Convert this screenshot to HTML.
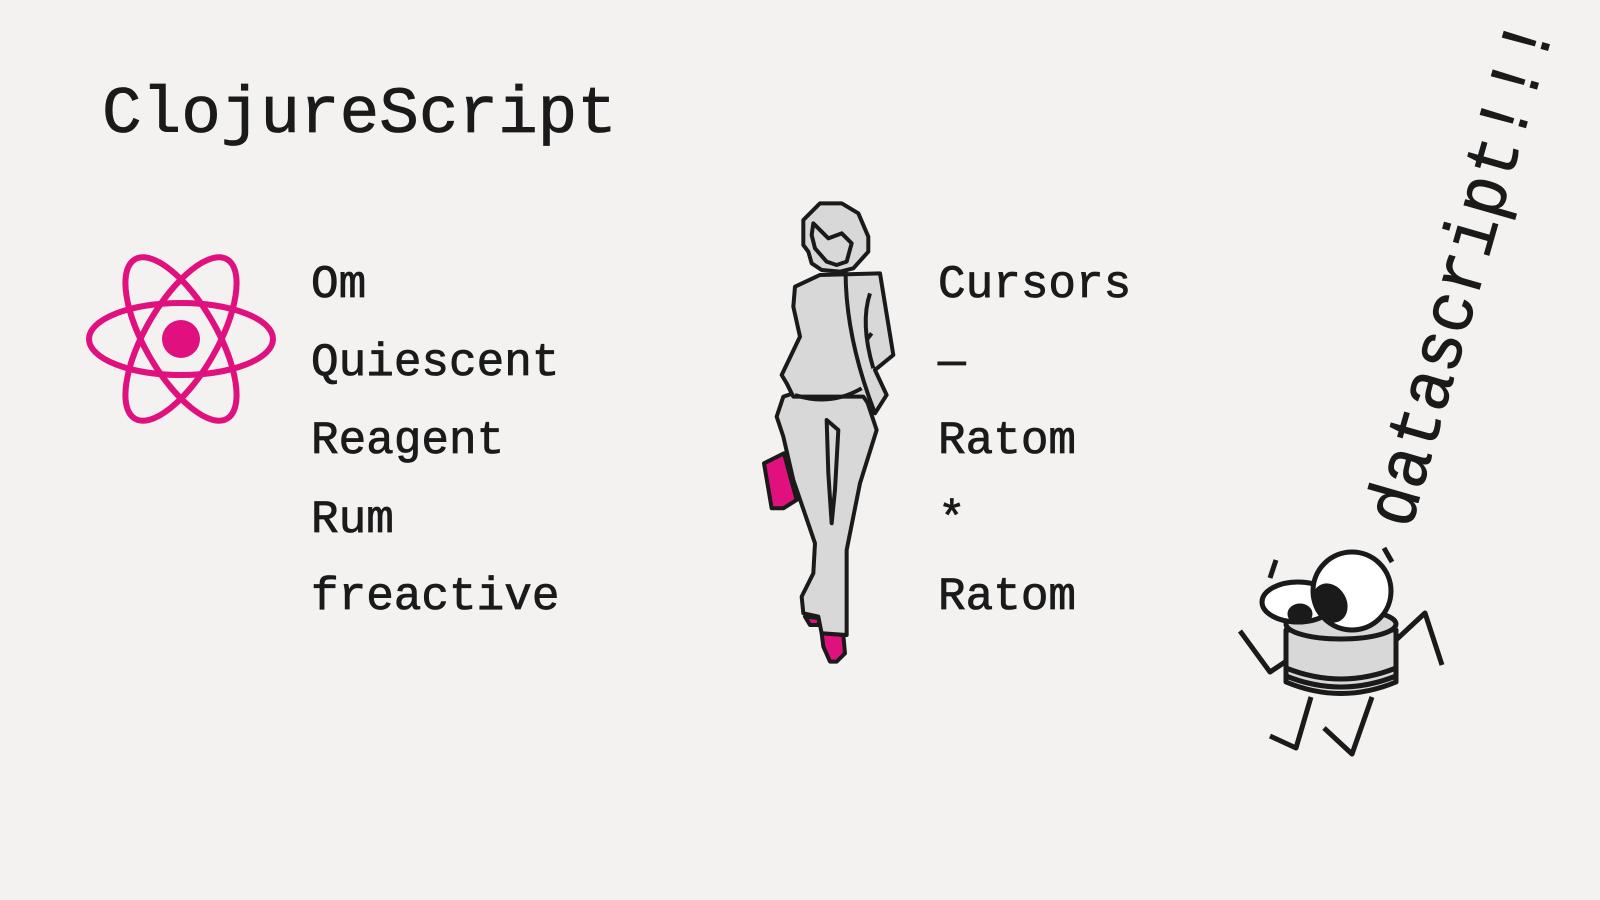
<!DOCTYPE html>
<html><head><meta charset="utf-8"><style>
html,body{margin:0;padding:0;background:#f3f2f0;}
#slide{position:relative;width:1600px;height:900px;overflow:hidden;background:#f3f2f0;font-family:"Liberation Mono","DejaVu Sans Mono",monospace;color:#1a1a1a;}
.t{position:absolute;white-space:pre;line-height:1;-webkit-text-stroke:0.8px #1a1a1a;}
.li{font-size:46px;}
</style></head><body>
<div id="slide">
<div class="t" style="left:102px;top:82px;font-size:66px;">ClojureScript</div>

<svg width="1600" height="900" style="position:absolute;left:0;top:0">
 <g fill="none" stroke="#e0117f" stroke-width="6">
  <ellipse cx="181" cy="339" rx="92" ry="36"/>
  <ellipse cx="181" cy="339" rx="92" ry="36" transform="rotate(60 181 339)"/>
  <ellipse cx="181" cy="339" rx="92" ry="36" transform="rotate(-60 181 339)"/>
  <circle cx="181" cy="339" r="19" fill="#e0117f" stroke="none"/>
 </g>
 <g transform="translate(740,190) scale(0.3333)" stroke="#1a1a1a" stroke-width="12" stroke-linejoin="round" fill="#d8d8d8">
  <polygon points="72,820 132,790 170,930 130,955 95,955" fill="#e0117f"/>
  <polygon points="195,1280 240,1285 235,1305 210,1305" fill="#e0117f"/>
  <polygon points="245,1330 310,1335 315,1390 290,1415 270,1415 250,1370" fill="#e0117f"/>
  <polygon points="160,610 370,600 410,720 360,880 320,1080 320,1335 245,1330 235,1280 190,1270 185,1220 220,1150 225,1060 160,870 130,740 110,680 130,620"/>
  <polygon points="260,690 295,720 285,900 275,1000 265,850"/>
  <polygon points="165,290 240,255 420,250 460,495 405,540 440,615 405,670 370,620 160,620 140,580 125,555 180,440 160,350"/>
  <path d="M320,170 Q300,400 405,670" fill="none"/>
  <path d="M165,615 Q270,650 365,595" fill="none"/>
  <path d="M390,310 Q360,400 400,535 M380,450 L395,430" fill="none"/>
  <polygon points="240,40 305,40 355,70 385,140 385,185 340,235 300,245 245,240 215,220 205,185 190,165 190,90"/>
  <polygon points="220,100 265,145 305,130 335,160 320,215 290,225 260,215 225,175 215,135"/>
 </g>
 <g stroke="#1a1a1a" stroke-width="5" stroke-linejoin="round" stroke-linecap="butt">
  <polyline points="1240,631 1270,672 1300,652" fill="none"/>
  <polyline points="1396,640 1425,613 1442,665" fill="none"/>
  <polyline points="1270,736 1296,748 1311,697" fill="none"/>
  <polyline points="1324,728 1352,754 1372,697" fill="none"/>
  <path d="M1286,630 L1286,682 Q1341,705 1396,682 L1396,630 Z" fill="#d8d8d8"/>
  <path d="M1286,668 Q1341,690 1396,668 M1286,676 Q1341,698 1396,676" fill="none"/>
  <ellipse cx="1341" cy="624" rx="55" ry="15" fill="#d8d8d8"/>
  <ellipse cx="1298" cy="602" rx="36" ry="20" fill="#fff"/>
  <ellipse cx="1300" cy="614" rx="10" ry="8" fill="#1a1a1a"/>
  <circle cx="1352" cy="591" r="39" fill="#fff"/>
  <ellipse cx="1330" cy="603" rx="14" ry="18" fill="#1a1a1a" transform="rotate(-30 1330 603)"/>
  <path d="M1276,560 L1270,578 M1384,548 L1392,562" fill="none"/>
 </g>
</svg>

<div class="t li" style="left:311px;top:262px;">Om</div>
<div class="t li" style="left:311px;top:340px;">Quiescent</div>
<div class="t li" style="left:311px;top:418px;">Reagent</div>
<div class="t li" style="left:311px;top:497px;">Rum</div>
<div class="t li" style="left:311px;top:574px;">freactive</div>

<div class="t li" style="left:938px;top:262px;">Cursors</div>
<div class="t li" style="left:938px;top:340px;">—</div>
<div class="t li" style="left:938px;top:418px;">Ratom</div>
<div class="t li" style="left:938px;top:497px;">*</div>
<div class="t li" style="left:938px;top:574px;">Ratom</div>

<div class="t" style="left:1392px;top:525px;font-size:72px;line-height:0;transform-origin:0 0;transform:rotate(-74deg) scaleX(0.93);">datascript!!!</div>
</div>
</body></html>
